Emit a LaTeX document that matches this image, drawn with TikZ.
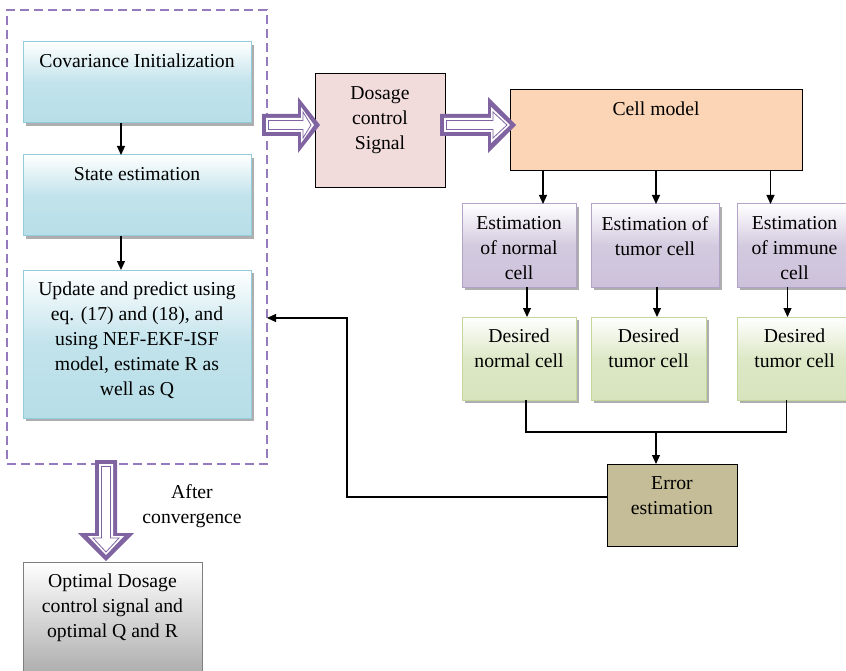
\documentclass[tikz,border=0pt]{standalone}
\usepackage{fontspec}
\setmainfont{Liberation Serif}
\usetikzlibrary{positioning, shadows, arrows.meta}

\definecolor{framepurple}{RGB}{150,122,190}
\definecolor{arrowpurple}{RGB}{128,100,162}
\definecolor{blueedge}{RGB}{147,205,221}
\definecolor{bluefill}{RGB}{183,222,232}
\definecolor{purpleedge}{RGB}{179,162,199}
\definecolor{purplefill}{RGB}{204,193,218}
\definecolor{greenedge}{RGB}{195,214,155}
\definecolor{greenfill}{RGB}{215,228,189}
\definecolor{pinkfill}{RGB}{242,220,219}
\definecolor{peachfill}{RGB}{251,213,181}
\definecolor{olivefill}{RGB}{196,189,151}
\definecolor{grayedge}{RGB}{127,127,127}
\definecolor{grayfill}{RGB}{160,160,160}

% fat hollow arrow: tail point, rotation, length, head length
\newcommand{\hollowarrow}[4]{%
  \begin{scope}[shift={#1}, rotate=#2]
    \fill[arrowpurple] (0,-11) -- (#3-#4,-11) -- (#3-#4,-28) -- (#3,0) -- (#3-#4,28) -- (#3-#4,11) -- (0,11) -- cycle;
    \fill[white] (4,-7) -- (#3-#4+3,-7) -- (#3-#4+3,-18) -- (#3-6,0) -- (#3-#4+3,18) -- (#3-#4+3,7) -- (4,7) -- cycle;
    \draw[arrowpurple, line width=0.8pt] (6.5,-4.5) -- (#3-#4+5,-4.5) -- (#3-#4+5,-13) -- (#3-9,0) -- (#3-#4+5,13) -- (#3-#4+5,4.5) -- (6.5,4.5) -- cycle;
  \end{scope}}

\tikzset{
  box/.style={rectangle, inner sep=0pt, outer sep=0pt},
  txt/.style={font=\fontsize{19.7}{25}\selectfont, align=center, inner sep=0pt},
  toplabel/.style={label={[txt, anchor=north, yshift=-12pt]north:{#1}}},
  shadowed/.style={drop shadow={shadow xshift=3pt, shadow yshift=-3pt, fill=black!45, opacity=0.7}},
  bluebox/.style={box, shadowed, draw=blueedge, line width=1pt, top color=white, bottom color=bluefill, middle color=bluefill!85},
  purplebox/.style={box, shadowed, draw=purpleedge, line width=1pt, top color=white, bottom color=purplefill, middle color=purplefill!85},
  greenbox/.style={box, shadowed, draw=greenedge, line width=1pt, top color=white, bottom color=greenfill, middle color=greenfill!85},
  plainbox/.style={box, draw=black, line width=1pt},
  graybox/.style={box, draw=grayedge, line width=1pt, top color=white, bottom color=grayfill},
  conn/.style={-{Triangle[length=9pt,width=8pt]}, line width=1.2pt},
  line/.style={line width=1.2pt}
}

\begin{document}
\begin{tikzpicture}[x=1pt, y=-1pt]
  \clip (0,0) rectangle (846,671);

  % estimator block
  \node (frame) [box, draw=framepurple, line width=1.3pt, dash pattern=on 9pt off 5pt, minimum width=260, minimum height=454] at (137,237) {};
  \node (cov) [bluebox, minimum width=228, minimum height=81, toplabel={Covariance Initialization}] at (137,82.5) {};
  \node (state) [bluebox, minimum width=228, minimum height=81, below=32pt of cov, toplabel={State estimation}] {};
  \node (update) [bluebox, minimum width=228, minimum height=148, below=34pt of state, toplabel={Update and predict using\\eq. (17) and (18), and\\using NEF-EKF-ISF\\model, estimate R as\\well as Q}] {};

  % plant side
  \node (dose) [plainbox, fill=pinkfill, minimum width=130, minimum height=114, toplabel={Dosage\\control\\Signal}] at (380,131) {};
  \node (cell) [plainbox, fill=peachfill, minimum width=292, minimum height=81, toplabel={Cell model}] at (656,130.5) {};
  \node (estnormal) [purplebox, minimum width=114, minimum height=83, toplabel={Estimation\\of normal\\cell}] at (519,245.5) {};
  \node (esttumor) [purplebox, minimum width=128, minimum height=83, right=15pt of estnormal, toplabel={Estimation of\\tumor cell}] {};
  \node (estimmune) [purplebox, minimum width=115, minimum height=83, right=18pt of esttumor, toplabel={Estimation\\of immune\\cell}] {};
  \node (desnormal) [greenbox, minimum width=114, minimum height=83, below=30pt of estnormal, toplabel={Desired\\normal cell}] {};
  \node (destumor) [greenbox, minimum width=115, minimum height=83, right=15pt of desnormal, toplabel={Desired\\tumor cell}] {};
  \node (desimmune) [greenbox, minimum width=115, minimum height=83, below=30pt of estimmune, toplabel={Desired\\tumor cell}] {};
  \node (err) [plainbox, fill=olivefill, minimum width=130, minimum height=82, toplabel={Error\\estimation}] at (672,505) {};

  % result
  \node (opt) [graybox, minimum width=179, minimum height=130, toplabel={Optimal Dosage\\control signal and\\optimal Q and R}] at (112.5,627) {};
  \node (conv) [txt] at (192,506) {After\\convergence};

  \draw[conn] ([xshift=-16pt]cov.south) -- ([xshift=-16pt]state.north);
  \draw[conn] ([xshift=-16pt]state.south) -- ([xshift=-16pt]update.north);

  \coordinate (inA) at ([xshift=24pt]estnormal.north);
  \coordinate (inB) at ([xshift=1pt]esttumor.north);
  \coordinate (inC) at ([xshift=-24pt]estimmune.north);
  \draw[conn] (inA |- cell.south) -- (inA);
  \draw[conn] (inB |- cell.south) -- (inB);
  \draw[conn] (inC |- cell.south) -- (inC);

  \coordinate (outA) at ([xshift=8pt]estnormal.south);
  \coordinate (outB) at ([xshift=2pt]esttumor.south);
  \coordinate (outC) at ([xshift=-7pt]estimmune.south);
  \draw[conn] (outA) -- (outA |- desnormal.north);
  \draw[conn] (outB) -- (outB |- destumor.north);
  \draw[conn] (outC) -- (outC |- desimmune.north);

  \coordinate (join) at (656,432);
  \draw[line] ([xshift=7pt]desnormal.south) |- (join);
  \draw[line] ([xshift=-8pt]desimmune.south) |- (join);
  \draw[conn] (join) -- (join |- err.north);

  \coordinate (fb) at (347,318);
  \draw[conn] ([yshift=8pt]err.west) -| (fb) -- (fb -| frame.east);

  \hollowarrow{(262,125)}{0}{58}{22}
  \hollowarrow{(440,125)}{0}{76}{28}
  \hollowarrow{(106,460)}{-90}{101}{28}
\end{tikzpicture}
\end{document}
